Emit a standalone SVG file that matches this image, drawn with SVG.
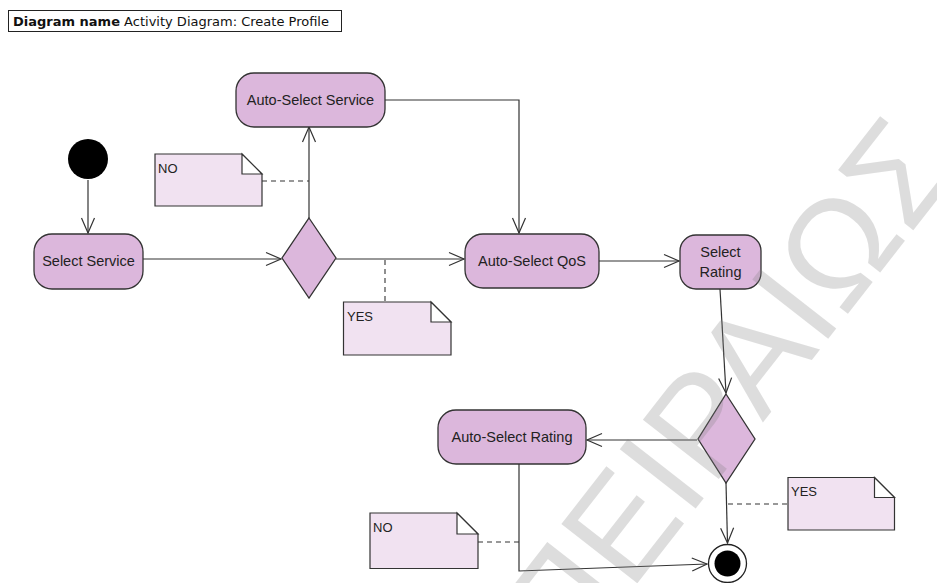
<svg xmlns="http://www.w3.org/2000/svg" width="937" height="583" viewBox="0 0 937 583">
  <defs>
    <marker id="open" viewBox="-17 -8 19 16" refX="0" refY="0" markerWidth="19" markerHeight="16" markerUnits="userSpaceOnUse" orient="auto">
      <path d="M -15 -6.5 L 0 0 L -15 6.5" fill="none" stroke="#333" stroke-width="1.2"/>
    </marker>
  </defs>
  <style>
    .action { fill: #dcb7dc; stroke: #333; stroke-width: 1.3; }
    .note { fill: #f1e2f1; stroke: #333; stroke-width: 1.2; }
    .fold { fill: #ffffff; stroke: #333; stroke-width: 1.2; }
    .label { font-family: "Liberation Sans", Arial, sans-serif; font-size: 14.5px; fill: #222; text-anchor: middle; }
    .notetext { font-family: "Liberation Sans", Arial, sans-serif; font-size: 13px; fill: #222; }
    .flow { fill: none; stroke: #333; stroke-width: 1.2; marker-end: url(#open); }
    .anchor { fill: none; stroke: #333; stroke-width: 1.1; stroke-dasharray: 5 4; }
    .wm { font-family: "Liberation Sans", Arial, sans-serif; font-size: 140px; fill: #808080; opacity: 0.26; }
  </style>

  <rect width="937" height="583" fill="#ffffff"/>

  <!-- diagram frame title -->
  <g id="title">
    <rect x="8.5" y="10.5" width="333" height="21" fill="#ffffff" stroke="#222" stroke-width="1"/>
    <text x="13" y="26" font-family="'DejaVu Sans', Verdana, sans-serif" font-size="13" fill="#111"><tspan font-weight="bold">Diagram name</tspan> Activity Diagram: Create Profile</text>
  </g>

  <!-- control flows and note anchors -->
  <g id="connectors">
    <path class="flow" d="M 88 180 L 88 233"/>
    <path class="flow" d="M 143 259 L 281 259"/>
    <path class="flow" d="M 309 218 L 309 127"/>
    <path class="flow" d="M 336 259 L 464 259"/>
    <path class="flow" d="M 385 100 L 519 100 L 519 233"/>
    <path class="flow" d="M 599 261 L 679 261"/>
    <path class="flow" d="M 720 289 L 726 393"/>
    <path class="flow" d="M 697 440 L 587 440"/>
    <path class="flow" d="M 726 483 L 727.5 543"/>
    <path class="flow" d="M 519 464 L 519 571 L 707 564"/>
    <path class="anchor" d="M 262 181 L 309 181"/>
    <path class="anchor" d="M 385 260 L 385 302"/>
    <path class="anchor" d="M 728 504 L 788 504"/>
    <path class="anchor" d="M 478 542 L 519 542"/>
  </g>

  <g id="initial">
    <circle cx="88" cy="159" r="20" fill="#000"/>
  </g>

  <g id="select-service">
    <rect class="action" x="34" y="234" width="109" height="55" rx="18"/>
    <text class="label" x="88.5" y="266">Select Service</text>
  </g>

  <g id="decision-service">
    <polygon class="action" points="309,218 336,258 309,298 282,258"/>
  </g>

  <g id="auto-select-service">
    <rect class="action" x="236" y="73" width="149" height="54" rx="18"/>
    <text class="label" x="310.5" y="105">Auto-Select Service</text>
  </g>

  <g id="note-no-1">
    <path class="note" d="M 155 154 L 242 154 L 262 174 L 262 206 L 155 206 Z"/>
    <path class="fold" d="M 242 154 L 242 174 L 262 174 Z"/>
    <text class="notetext" x="158" y="173">NO</text>
  </g>

  <g id="note-yes-1">
    <path class="note" d="M 343.5 302 L 431 302 L 451 322 L 451 355 L 343.5 355 Z"/>
    <path class="fold" d="M 431 302 L 431 322 L 451 322 Z"/>
    <text class="notetext" x="347" y="321">YES</text>
  </g>

  <g id="auto-select-qos">
    <rect class="action" x="465" y="234" width="134" height="54" rx="18"/>
    <text class="label" x="532" y="266">Auto-Select QoS</text>
  </g>

  <g id="select-rating">
    <rect class="action" x="680" y="235" width="81" height="54" rx="16"/>
    <text class="label" x="720.5" y="257">Select</text>
    <text class="label" x="720.5" y="277">Rating</text>
  </g>

  <g id="decision-rating">
    <polygon class="action" points="726,394 755,439 726,483 698,439"/>
  </g>

  <g id="auto-select-rating">
    <rect class="action" x="438" y="410" width="148" height="54" rx="18"/>
    <text class="label" x="512" y="442">Auto-Select Rating</text>
  </g>

  <g id="note-yes-2">
    <path class="note" d="M 788 477.5 L 874.5 477.5 L 894.5 497.5 L 894.5 530 L 788 530 Z"/>
    <path class="fold" d="M 874.5 477.5 L 874.5 497.5 L 894.5 497.5 Z"/>
    <text class="notetext" x="791" y="496">YES</text>
  </g>

  <g id="note-no-2">
    <path class="note" d="M 370 513 L 457 513 L 478 534 L 478 568.5 L 370 568.5 Z"/>
    <path class="fold" d="M 457 513 L 457 534 L 478 534 Z"/>
    <text class="notetext" x="373" y="532">NO</text>
  </g>

  <g id="final">
    <circle cx="727.5" cy="563.5" r="19" fill="#ffffff" stroke="#222" stroke-width="1.3"/>
    <circle cx="727.5" cy="563.5" r="13" fill="#000"/>
  </g>

  <!-- watermark -->
  <text class="wm" transform="translate(568 672) rotate(-52)">ΠΕΙΡΑΙΩΣ</text>
</svg>
